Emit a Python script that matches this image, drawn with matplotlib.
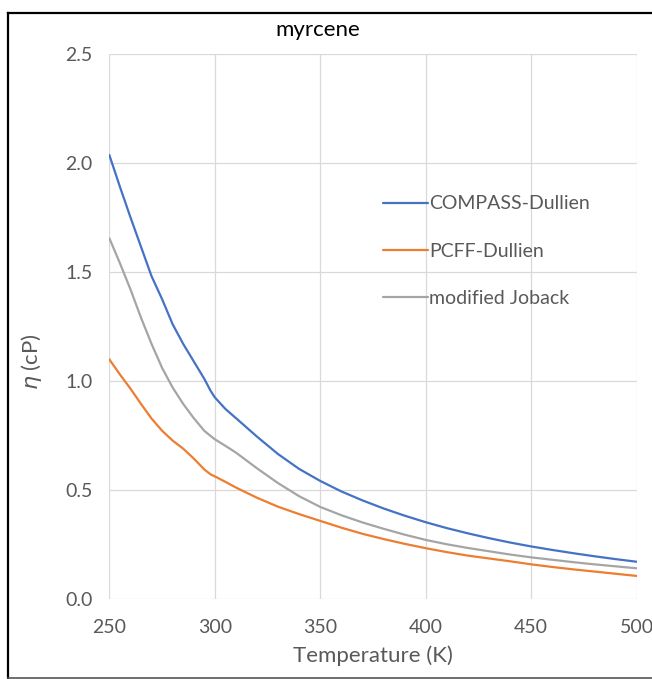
import numpy as np
import matplotlib
matplotlib.use("Agg")
import matplotlib.pyplot as plt
from matplotlib.lines import Line2D

plt.rcParams['font.family'] = ['Lato', 'DejaVu Sans']

# temperatures (K)
T = [250, 255, 260, 265, 270, 275, 280, 285, 290, 295, 298, 300, 305, 310, 320, 330,
     340, 350, 360, 370, 380, 390, 400, 410, 420, 430, 440, 450, 460, 470, 480, 490, 500]

# viscosity (cP)
compass = [2.035, 1.89, 1.75, 1.615, 1.48, 1.375, 1.26, 1.17, 1.09, 1.01, 0.955, 0.925,
           0.872, 0.83, 0.745, 0.665, 0.597, 0.542, 0.494, 0.453, 0.416, 0.383, 0.353,
           0.326, 0.302, 0.280, 0.260, 0.242, 0.226, 0.211, 0.197, 0.184, 0.172]
pcff = [1.099, 1.03, 0.965, 0.895, 0.828, 0.772, 0.727, 0.69, 0.645, 0.595, 0.572, 0.563,
        0.538, 0.512, 0.465, 0.424, 0.390, 0.359, 0.328, 0.300, 0.276, 0.254, 0.234,
        0.216, 0.200, 0.187, 0.174, 0.160, 0.148, 0.137, 0.127, 0.117, 0.107]
joback = [1.654, 1.54, 1.42, 1.29, 1.17, 1.06, 0.97, 0.895, 0.83, 0.772, 0.748, 0.733,
          0.703, 0.672, 0.60, 0.532, 0.472, 0.423, 0.385, 0.352, 0.323, 0.296, 0.272,
          0.252, 0.235, 0.220, 0.205, 0.192, 0.181, 0.170, 0.160, 0.151, 0.142]

labels = ['COMPASS-Dullien', 'PCFF-Dullien', 'modified Joback']
colors = ['#4472C4', '#ED7D31', '#A5A5A5']
xticks = [250, 300, 350, 400, 450, 500]
yticks = [0.0, 0.5, 1.0, 1.5, 2.0, 2.5]

fig = plt.figure(figsize=(6.52, 6.79), dpi=100)
ax = fig.add_axes([0.1677, 0.1174, 0.8088, 0.8038])

for y, lab, c in zip([compass, pcff, joback], labels, colors):
    ax.plot(T, y, color=c, lw=1.6, label=lab, solid_capstyle='round',
            solid_joinstyle='round')

ax.set_xlim(250, 500)
ax.set_ylim(0, 2.5)
ax.set_xticks(xticks)
ax.set_yticks(yticks)
ax.set_yticklabels(['%.1f' % v for v in yticks])
ax.grid(True, color='#D9D9D9', lw=0.9)
ax.set_axisbelow(True)
for s in ax.spines.values():
    s.set_visible(False)
ax.tick_params(length=0, labelsize=14, labelcolor='#595959')
ax.tick_params(axis='y', pad=12)
ax.tick_params(axis='x', pad=14)

ax.set_xlabel('Temperature (K)', fontsize=16, color='#595959', labelpad=7)
fig.text(31 / 652, 1 - 362 / 679, r'$\eta$ (cP)', rotation=90, fontsize=16,
         color='#595959', ha='center', va='center')
fig.text(318 / 652, 1 - 30 / 679, 'myrcene', fontsize=16, color='#000000',
         ha='center', va='center')

leg = ax.legend(loc='upper left', bbox_to_anchor=(0.486, 0.772), frameon=False,
                fontsize=14, handlelength=2.3, handletextpad=0.05, labelspacing=1.55)
for t in leg.get_texts():
    t.set_color('#595959')

# outer chart frame
fig.add_artist(Line2D([8 / 652, 8 / 652], [1 - 13 / 679, 1 - 678 / 679],
                      transform=fig.transFigure, color='black', lw=1.6))
fig.add_artist(Line2D([8 / 652, 1.0], [1 - 13 / 679, 1 - 13 / 679],
                      transform=fig.transFigure, color='black', lw=1.6))
fig.add_artist(Line2D([8 / 652, 1.0], [1 - 677.5 / 679, 1 - 677.5 / 679],
                      transform=fig.transFigure, color='#555555', lw=1.2))

fig.savefig('out.png', dpi=100)
